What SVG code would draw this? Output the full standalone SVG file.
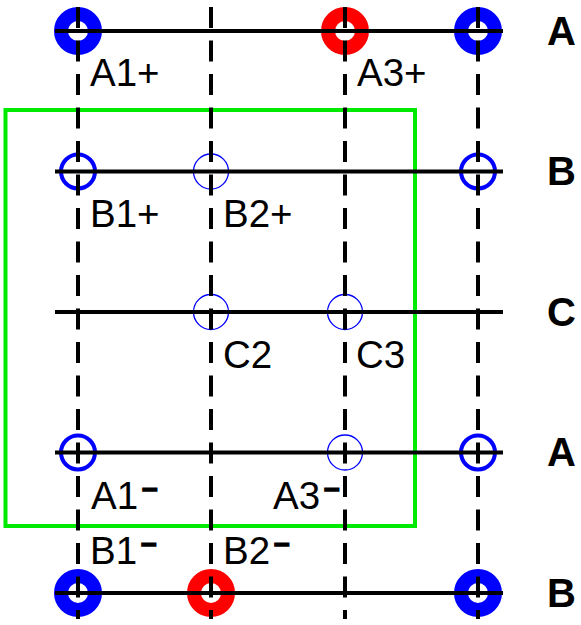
<svg xmlns="http://www.w3.org/2000/svg" width="581" height="625" viewBox="0 0 581 625">
<style>
.thick{fill:none;stroke-width:14}
.med{fill:none;stroke:#0000ff;stroke-width:4}
.thin{fill:none;stroke:#0000ff;stroke-width:1.3}
.blue{stroke:#0000ff}
.red{stroke:#ff0000}
.h{stroke:#000;stroke-width:4}
.v{stroke:#000;stroke-width:4;stroke-dasharray:21 12.5}
.lbl{font-family:"Liberation Sans",Arial,sans-serif;font-size:38.5px;fill:#000}
.row{font-family:"Liberation Sans",Arial,sans-serif;font-size:40px;font-weight:bold;fill:#000}
.m{font-size:28px;font-weight:bold;stroke:#000;stroke-width:1.4}
</style>
<rect id="frame" x="5.5" y="110" width="409.5" height="416" fill="none" stroke="#00ea00" stroke-width="4"/>
<g id="nodes">
<g id="A1p"><circle class="thick blue" cx="78" cy="31" r="17"/></g>
<g id="A3p"><circle class="thick red" cx="345" cy="31" r="17"/></g>
<g id="A4p"><circle class="thick blue" cx="478" cy="31" r="17"/></g>
<g id="B1p"><circle class="med" cx="78" cy="171.5" r="17"/></g>
<g id="B2p"><circle class="thin" cx="211" cy="171.5" r="17.5"/></g>
<g id="B4p"><circle class="med" cx="478" cy="171.5" r="17"/></g>
<g id="C2"><circle class="thin" cx="211" cy="312" r="17.5"/></g>
<g id="C3"><circle class="thin" cx="345" cy="312" r="17.5"/></g>
<g id="A1m"><circle class="med" cx="78" cy="452.5" r="17"/></g>
<g id="A3m"><circle class="thin" cx="345" cy="452.5" r="17.5"/></g>
<g id="A4m"><circle class="med" cx="478" cy="452.5" r="17"/></g>
<g id="B1m"><circle class="thick blue" cx="78" cy="593" r="17"/></g>
<g id="B2m"><circle class="thick red" cx="211" cy="593" r="17"/></g>
<g id="B4m"><circle class="thick blue" cx="478" cy="593" r="17"/></g>
</g>
<g id="connectors">
<line class="h" x1="55" y1="31" x2="503" y2="31"/>
<line class="h" x1="55" y1="171.5" x2="503" y2="171.5"/>
<line class="h" x1="55" y1="312" x2="503" y2="312"/>
<line class="h" x1="55" y1="452.5" x2="503" y2="452.5"/>
<line class="h" x1="55" y1="593" x2="503" y2="593"/>
<line class="v" x1="78" y1="7" x2="78" y2="619"/>
<line class="v" x1="211" y1="7" x2="211" y2="619"/>
<line class="v" x1="345" y1="7" x2="345" y2="619"/>
<line class="v" x1="478" y1="7" x2="478" y2="619"/>
</g>
<g id="labels">
<text class="lbl" x="90" y="86">A1+</text>
<text class="lbl" x="357" y="86">A3+</text>
<text class="lbl" x="90" y="227">B1+</text>
<text class="lbl" x="223" y="227">B2+</text>
<text class="lbl" x="223" y="368">C2</text>
<text class="lbl" x="356" y="368">C3</text>
<text class="lbl" x="91" y="509">A1<tspan class="m" dx="4" dy="-12">–</tspan></text>
<text class="lbl" x="273" y="509">A3<tspan class="m" dx="4" dy="-12">–</tspan></text>
<text class="lbl" x="90" y="564">B1<tspan class="m" dx="4" dy="-12">–</tspan></text>
<text class="lbl" x="223" y="564">B2<tspan class="m" dx="4" dy="-12">–</tspan></text>
<text class="row" x="547" y="45">A</text>
<text class="row" x="547" y="185">B</text>
<text class="row" x="547" y="326">C</text>
<text class="row" x="547" y="466">A</text>
<text class="row" x="547" y="607">B</text>
</g>
</svg>
